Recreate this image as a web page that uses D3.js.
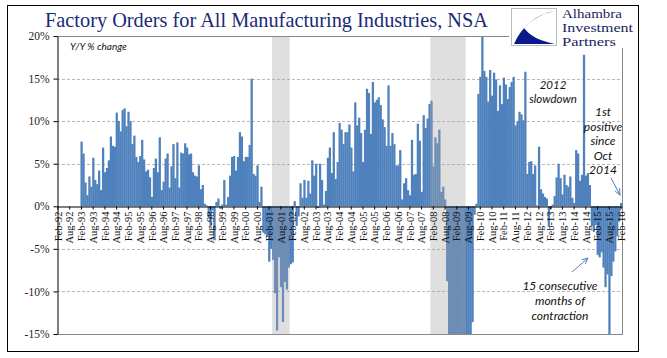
<!DOCTYPE html>
<html><head><meta charset="utf-8">
<script src="https://cdn.jsdelivr.net/npm/d3@7"></script>
<style>body{margin:0;background:#fff} svg{display:block}</style>
</head><body>
<svg id="chart" width="667" height="358"></svg>
<script>
// ---- data: Y/Y % change, monthly, Feb-92 .. Feb-16 ----
const startMonth = "1992-02";
const endMonth = "2016-02";
const yoy1992 = [null,null,null,null,null,null,null,null,null,null,null]; // Feb..Dec
const yoy1993 = [null,7.6,6.2,2.8,1.3,3.5,2.3,5.7,3.1,2.6,4.2,1.9];
const yoy1994 = [6.9,4.0,4.5,5.4,8.2,7.1,7.0,11.0,10.0,8.8,11.3,11.5];
const yoy1995 = [9.4,11.1,10.0,7.3,8.3,5.8,5.2,5.9,7.8,5.5,4.1,4.3];
const yoy1996 = [3.4,1.1,4.5,5.6,4.0,8.1,1.9,2.9,5.6,6.2,2.2,4.7];
const yoy1997 = [7.3,3.3,7.5,2.2,6.3,6.2,7.4,6.9,6.1,6.2,4.0,3.6];
const yoy1998 = [3.5,4.8,2.0,2.5,0.3,0.1,-1.3,-2.3,-0.5,-4.0,0.5,0.9];
const yoy1999 = [-0.3,0.2,3.1,0.2,1.1,3.6,5.8,5.9,4.2,5.8,8.7,8.2];
const yoy2000 = [5.3,5.8,5.8,7.2,15.0,3.8,3.6,4.8,0.5,2.3,-3.1,-3.3];
const yoy2001 = [-3.6,-6.5,-5.0,-6.3,-10.2,-14.6,-6.0,-9.5,-13.6,-8.9,-9.8,-7.2];
const yoy2002 = [-6.8,-6.6,0.6,-2.3,-1.2,2.7,1.0,3.1,1.0,3.0,1.5,5.4];
const yoy2003 = [3.6,5.0,-0.2,5.0,3.1,0.2,1.8,5.7,6.9,3.9,8.7,3.2];
const yoy2004 = [5.2,9.8,9.0,7.3,8.7,8.7,9.6,6.9,4.1,12.2,9.5,10.4];
const yoy2005 = [8.6,5.2,9.0,13.8,13.3,8.5,14.6,12.2,12.5,12.8,11.9,10.2];
const yoy2006 = [9.3,7.1,14.2,7.1,8.6,7.3,4.8,4.8,6.6,0.8,2.7,3.3];
const yoy2007 = [1.9,1.3,7.8,3.7,3.8,9.7,7.7,1.7,10.7,9.2,10.3,12.0];
const yoy2008 = [12.4,4.7,8.1,7.4,9.0,1.7,2.3,0.8,-8.8,-17.0,-22.0,-24.0];
const yoy2009 = [-28.0,-30.0,-31.0,-29.0,-30.0,-27.0,-23.0,-18.0,-16.0,-13.6,-1.0,0.3];
const yoy2010 = [13.2,15.2,21.0,15.9,15.2,12.3,16.0,13.0,15.7,14.9,11.2,14.2];
const yoy2011 = [12.0,15.1,14.3,12.6,14.0,14.6,15.2,9.5,10.0,11.1,10.8,10.1];
const yoy2012 = [15.8,3.8,5.2,5.3,3.8,4.8,0.1,7.0,2.0,1.5,1.1,0.9];
const yoy2013 = [-2.4,-0.3,0.2,1.2,3.4,5.0,3.3,1.4,3.7,2.5,2.3,3.5];
const yoy2014 = [1.0,0.4,6.6,6.2,3.0,3.7,17.8,3.6,3.9,2.5,-2.3,-3.0];
const yoy2015 = [-2.2,-5.7,-6.0,-5.4,-7.2,-9.5,-8.0,-16.0,-8.2,-6.5,-5.3,-3.5];
const yoy2016 = [-1.8,0.4];

const recessions = [["2001-04","2001-12"],["2008-01","2009-06"]];
const yTicks = [-15,-10,-5,0,5,10,15,20];
const gridTicks = [-10,-5,5,10,15];

const titleText = "Factory Orders for All Manufacturing Industries, NSA";
const logoLines = ["Alhambra","Investment","Partners"];
const unitLabel = "Y/Y % change";
const noteSlowdown = ["2012","slowdown"];
const notePositive = ["1st","positive","since","Oct","2014"];
const noteContraction = ["15 consecutive","months of","contraction"];

// ---- build ----
const values = [].concat(yoy1992,yoy1993,yoy1994,yoy1995,yoy1996,yoy1997,yoy1998,yoy1999,
  yoy2000,yoy2001,yoy2002,yoy2003,yoy2004,yoy2005,yoy2006,yoy2007,yoy2008,yoy2009,
  yoy2010,yoy2011,yoy2012,yoy2013,yoy2014,yoy2015,yoy2016);
const parse = d3.timeParse("%Y-%m");
const key = d3.timeFormat("%Y-%m");
const lab = d3.timeFormat("%b-%y");
const months = d3.timeMonth.range(parse(startMonth), d3.timeMonth.offset(parse(endMonth),1));
const data = months.map((m,i)=>({k:key(m), m, v: values[i]}));

const svg = d3.select("#chart");
const L=57, R=622, T=36, B=334;
const x = d3.scaleBand().domain(data.map(d=>d.k)).range([L,R]).padding(0);
const y = d3.scaleLinear().domain([-15,20]).range([B,T]);
const clamp = v => Math.max(-15, Math.min(20, v));

// outer frame
svg.append("rect").attr("x",7.5).attr("y",5.5).attr("width",631).attr("height",346)
  .attr("fill","none").attr("stroke","#000").attr("stroke-width",1);

// grid
svg.append("g").selectAll("line").data(gridTicks).join("line")
  .attr("x1",L).attr("x2",R).attr("y1",d=>Math.round(y(d))+0.5).attr("y2",d=>Math.round(y(d))+0.5)
  .attr("stroke","#a6a6a6").attr("stroke-width",0.8).attr("stroke-dasharray","3,2");

// bars
svg.append("g").selectAll("rect").data(data.filter(d=>d.v!=null)).join("rect")
  .attr("x",d=>x(d.k)).attr("width",x.bandwidth()+0.3)
  .attr("y",d=>y(Math.max(0,clamp(d.v))))
  .attr("height",d=>Math.abs(y(clamp(d.v))-y(0)))
  .attr("fill","#4f81bd");

// recession bands (drawn translucent over bars)
svg.append("g").selectAll("rect").data(recessions).join("rect")
  .attr("x",d=>x(d[0])).attr("width",d=>x(d[1])+x.bandwidth()-x(d[0]))
  .attr("y",T).attr("height",B-T+1)
  .attr("fill","#a6a6a6").attr("opacity",0.36);

// plot border (top, right, bottom)
svg.append("line").attr("x1",L).attr("x2",509).attr("y1",T+0.5).attr("y2",T+0.5).attr("stroke","#888");
svg.append("line").attr("x1",R+0.5).attr("x2",R+0.5).attr("y1",48).attr("y2",B).attr("stroke","#888");
svg.append("line").attr("x1",L).attr("x2",R+1).attr("y1",B+0.5).attr("y2",B+0.5).attr("stroke","#888");

// y axis
const yAxis = svg.append("g").attr("transform",`translate(${L+0.5},0)`)
  .call(d3.axisLeft(y).tickValues(yTicks).tickFormat(d=>d+"%").tickSize(4).tickSizeOuter(0));
yAxis.select(".domain").attr("stroke","#000");
yAxis.selectAll(".tick line").attr("stroke","#000");
yAxis.selectAll("text").attr("font-family","Liberation Serif, serif").attr("font-size",11.5)
  .attr("fill","#222").attr("x",-8);

// x axis at zero
const xTickKeys = data.filter(d=>(d.m.getMonth()===1||d.m.getMonth()===7)).map(d=>d.k);
const xAxis = svg.append("g").attr("transform",`translate(0,${Math.round(y(0))+0.5})`)
  .call(d3.axisBottom(x).tickValues(xTickKeys).tickFormat(k=>lab(parse(k))).tickSize(3).tickSizeOuter(0));
xAxis.select(".domain").attr("stroke","#000").attr("stroke-width",1.2);
xAxis.selectAll(".tick line").attr("stroke","#000");
xAxis.selectAll("text").attr("font-family","Liberation Serif, serif").attr("font-size",10.5)
  .attr("fill","#111").attr("text-anchor","end")
  .attr("transform","rotate(-90)").attr("x",-5).attr("y",0).attr("dy","0.35em");

// title
svg.append("text").attr("x",45).attr("y",27).text(titleText)
  .attr("font-family","Liberation Serif, serif").attr("font-size",22)
  .attr("textLength",443).attr("lengthAdjust","spacingAndGlyphs").attr("fill","#1a2a78");

// logo
svg.append("rect").attr("x",511.5).attr("y",8.5).attr("width",45).attr("height",37)
  .attr("fill","#fff").attr("stroke","#bbb");
svg.append("path").attr("d","M514,44 L555,44 C540,41 530,36 524,28 C533,18 545,13 555,11 C536,14 522,26 514,44 Z")
  .attr("fill","#0a1a8c");
svg.append("g").selectAll("text").data(logoLines).join("text")
  .attr("x",562).attr("y",(d,i)=>18+i*14).text(d=>d)
  .attr("font-family","Liberation Serif, serif").attr("font-size",12.2)
  .attr("textLength",(d,i)=>[60,71,54][i]).attr("lengthAdjust","spacingAndGlyphs")
  .attr("fill","#1a1f5e");

// annotations
const italic = sel => sel.attr("font-family","Lato, Open Sans, sans-serif").attr("font-style","italic").attr("fill","#111");
italic(svg.append("text").attr("x",70).attr("y",50).text(unitLabel).attr("font-size",10));
italic(svg.append("g").selectAll("text").data(noteSlowdown).join("text")
  .attr("x",553).attr("y",(d,i)=>89+i*13.5).attr("text-anchor","middle").text(d=>d).attr("font-size",11.5));
italic(svg.append("g").selectAll("text").data(notePositive).join("text")
  .attr("x",603).attr("y",(d,i)=>116+i*14.5).attr("text-anchor","middle").text(d=>d).attr("font-size",12));
italic(svg.append("g").selectAll("text").data(noteContraction).join("text")
  .attr("x",560).attr("y",(d,i)=>290+i*15).attr("text-anchor","middle").text(d=>d).attr("font-size",12));

// arrows
const defs = svg.append("defs");
defs.append("marker").attr("id","ah").attr("viewBox","0 0 10 10").attr("refX",9).attr("refY",5)
  .attr("markerWidth",7).attr("markerHeight",7).attr("orient","auto")
  .append("path").attr("d","M0,1 L9,5 L0,9").attr("fill","none").attr("stroke","#4f7fc0").attr("stroke-width",1.3);
svg.append("line").attr("x1",611).attr("y1",178).attr("x2",620).attr("y2",195)
  .attr("stroke","#4f7fc0").attr("stroke-width",1).attr("marker-end","url(#ah)");
svg.append("line").attr("x1",572).attr("y1",272).attr("x2",588).attr("y2",258)
  .attr("stroke","#4f7fc0").attr("stroke-width",1).attr("marker-end","url(#ah)");
</script>
</body></html>
